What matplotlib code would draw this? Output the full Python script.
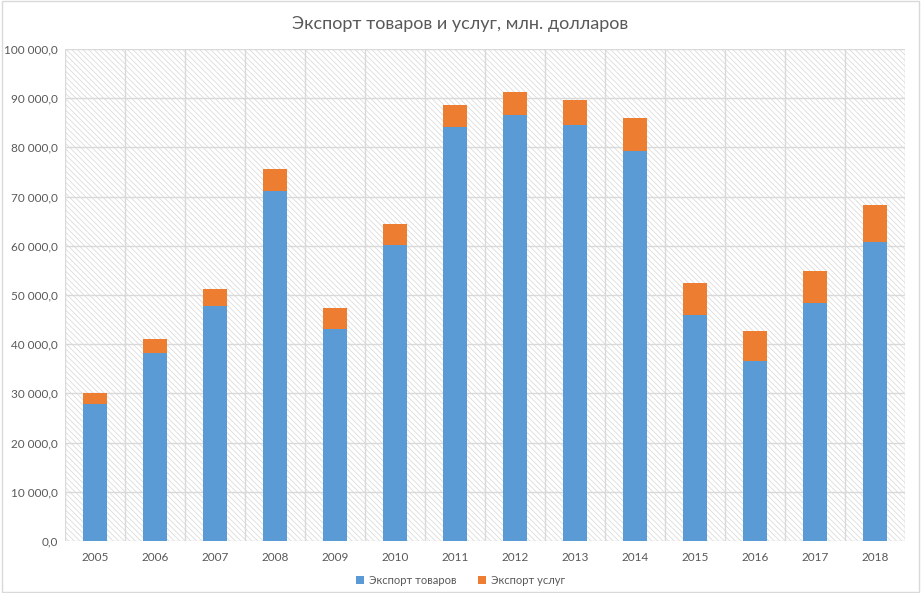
#!/usr/bin/env python3

import numpy as np
import matplotlib.pyplot as plt
from matplotlib.patches import Rectangle
from matplotlib.ticker import FuncFormatter, MultipleLocator

years = ['2005', '2006', '2007', '2008', '2009', '2010', '2011',
         '2012', '2013', '2014', '2015', '2016', '2017', '2018']
goods = [27800, 38300, 47800, 71100, 43000, 60100, 84200,
         86500, 84600, 79300, 45900, 36600, 48400, 60800]
services = [2200, 2700, 3400, 4500, 4400, 4300, 4400,
            4800, 5000, 6700, 6500, 6100, 6500, 7400]

title = 'Экспорт товаров и услуг, млн. долларов'
labels = ['Экспорт товаров', 'Экспорт услуг']

plt.rcParams['font.family'] = ['Lato', 'DejaVu Sans']
text_grey = '#595959'
grid_grey = '#d9d9d9'


def fmt(v, pos):
    s = '{:,.1f}'.format(v)           # 100,000.0
    return s.replace(',', ' ').replace('.', ',')


def main():
    fig = plt.figure(figsize=(9.21, 5.93), dpi=100)
    ax = fig.add_axes([65 / 921, 52 / 593, 840 / 921, 492 / 593])

    # outer chart border
    fig.patches.append(Rectangle((0.002, 0.002), 0.996, 0.996, transform=fig.transFigure,
                                 fill=False, edgecolor=grid_grey, linewidth=1))

    # hatched plot area
    plt.rcParams['hatch.linewidth'] = 0.5
    ax.patch.set_visible(False)
    ax.add_patch(Rectangle((0, 0), 1, 1, transform=ax.transAxes, facecolor='white',
                           edgecolor='#d6d6d6', hatch='\\' * 6, linewidth=0, zorder=0))

    x = np.arange(len(years))
    ax.bar(x, goods, width=0.4, color='#5b9bd5', label=labels[0], zorder=3)
    ax.bar(x, services, width=0.4, bottom=goods, color='#ed7d31', label=labels[1], zorder=3)

    ax.set_xlim(-0.5, len(years) - 0.5)
    ax.set_ylim(0, 100000)
    ax.yaxis.set_major_locator(MultipleLocator(10000))
    ax.yaxis.set_major_formatter(FuncFormatter(fmt))
    ax.set_xticks(x)
    ax.set_xticklabels(years)
    ax.set_xticks(np.arange(len(years) + 1) - 0.5, minor=True)

    ax.grid(axis='y', which='major', color=grid_grey, linewidth=1, zorder=1)
    ax.grid(axis='x', which='minor', color=grid_grey, linewidth=1, zorder=1)
    ax.set_axisbelow(True)
    for s in ax.spines.values():
        s.set_visible(False)
    ax.tick_params(which='both', length=0, colors=text_grey, labelsize=8.5)
    ax.tick_params(axis='x', pad=8)
    ax.tick_params(axis='y', pad=5)

    fig.text(0.5, 1 - 24 / 593, title, ha='center', va='center',
             fontsize=13, color=text_grey)

    fig.legend(loc='center', bbox_to_anchor=(0.5, 1 - 580 / 593), ncol=2, frameon=False,
               fontsize=8, labelcolor=text_grey, handlelength=0.7, handleheight=0.7,
               handletextpad=0.4, columnspacing=2)

    fig.savefig('out.png', dpi=100)


if __name__ == "__main__":
    main()
